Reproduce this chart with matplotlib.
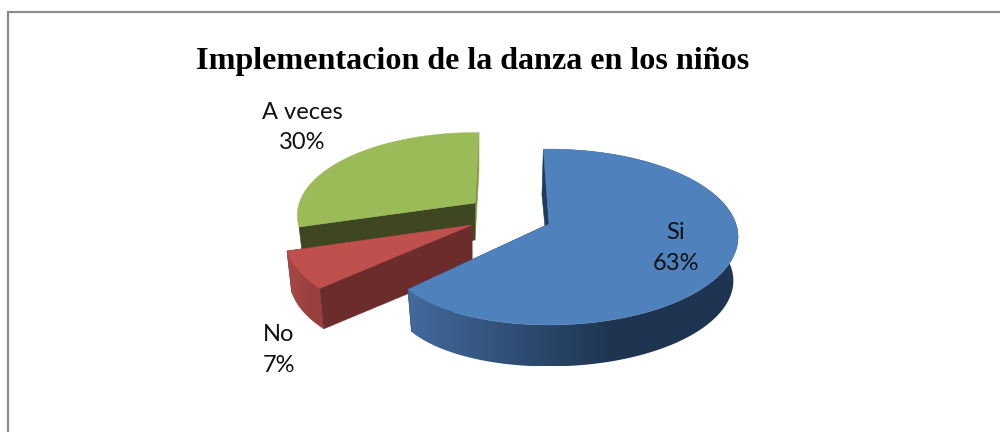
import numpy as np
import matplotlib
matplotlib.use("Agg")
import matplotlib.pyplot as plt
from matplotlib.patches import Polygon
from matplotlib.colors import to_rgb

title = "Implementacion de la danza en los niños"
categories = ["Si", "No", "A veces"]
values = [63, 7, 30]

# layout of each slice (pixels in the 1000x432 figure)
apex = [(549, 224), (472, 225), (475, 203)]
rotate = [-2.0, 1.0, 1.5]
scale = [1.0, 0.99, 0.94]
depth = [44, 42, 37]
taper = [0.045, 0.0, 0.0]
top_colors = ["#4F81BD", "#C0504D", "#9BBB59"]
cut_colors = ["#1F3A5F", "#6C2C2C", "#3F4722"]
end_colors = ["#1F3A5F", "#6C2C2C", "#7F9A48"]
wall_left = ["#426A9C", "#A84A47", None]
wall_right = ["#1E3450", "#98403E", None]
label_xy = [(676, 248), (279, 350), (302, 127.5)]

RX, RY, K = 187.0, 86.0, 0.148
SHRINK = 0.975

fig = plt.figure(figsize=(10, 4.32), dpi=100)
ax = fig.add_axes([0, 0, 1, 1])
ax.axis("off")


def project(theta, a, s, tp):
    x, y = np.sin(theta), np.cos(theta)
    d = 1 + K * y
    u = np.clip((theta - np.pi) / np.deg2rad(46), 0, 1)
    r = s * (1 - tp * u ** 3)
    return a[0] + r * RX * x / d, a[1] - r * RY * y / d


def lower(px, py, a, dp):
    return a[0] + (px - a[0]) * SHRINK, a[1] + (py - a[1]) * SHRINK + dp


def mix(c1, c2, t):
    c1, c2 = np.array(to_rgb(c1)), np.array(to_rgb(c2))
    return c1 + (c2 - c1) * t


total = sum(values)
edges = np.cumsum([0] + values) / total * 2 * np.pi
z = 1
for i in [2, 1, 0]:
    a, s, dp = apex[i], scale[i], depth[i]
    rot = np.deg2rad(rotate[i])
    t = np.linspace(edges[i] + rot, edges[i + 1] + rot, 300)
    px, py = project(t, a, s, taper[i])
    lx, ly = lower(px, py, a, dp)
    # cut face at the end of the slice
    ax.add_patch(Polygon([a, (px[-1], py[-1]), (lx[-1], ly[-1]), (a[0], a[1] + dp)],
                         closed=True, fc=end_colors[i], ec=end_colors[i], lw=0.4, zorder=z))
    z += 1
    # outer wall with a horizontal gradient
    if wall_left[i] is not None:
        xmin, xmax = px.min(), px.max()
        f = np.clip(np.linspace(0, 1, 256) / 0.62, 0, 1)
        img = np.array([[mix(wall_left[i], wall_right[i], v) for v in f]])
        top = min(py.min(), ly.min())
        bot = max(py.max(), ly.max())
        im = ax.imshow(img, extent=(xmin, xmax + 3, bot, top), aspect="auto",
                       interpolation="bilinear", zorder=z)
        z += 1
        wall = Polygon(np.vstack([np.column_stack([px, py]), np.column_stack([lx, ly])[::-1]]),
                       closed=True, transform=ax.transData, fc="none", ec="none")
        ax.add_patch(wall)
        im.set_clip_path(wall)
    # cut face at the start of the slice
    nudge = 1.5 if i == 0 else 0
    ax.add_patch(Polygon([a, (px[0], py[0]), (lx[0] - nudge, ly[0]), (a[0], a[1] + dp)],
                         closed=True, fc=cut_colors[i], ec=cut_colors[i], lw=0.4, zorder=z))
    z += 1
    ax.add_patch(Polygon(np.vstack([[a], np.column_stack([px, py])]), closed=True,
                         fc=top_colors[i], ec=top_colors[i], lw=0.3, zorder=z))
    z += 1

for i in range(3):
    ax.text(label_xy[i][0], label_xy[i][1], f"{categories[i]}\n{values[i]}%", ha="center",
            va="center", fontsize=17, family="Lato", color="#111111", linespacing=1.55, zorder=z)

# frame: left and top edges run off the picture
ax.plot([8, 8, 1000], [432, 12, 12], color="#8C8C8C", lw=1.6, solid_joinstyle="miter", zorder=z)

ax.text(473, 61, title, ha="center", va="center", fontsize=23.1, family="Liberation Serif",
        fontweight="bold", color="black", zorder=z)

ax.set_xlim(0, 1000)
ax.set_ylim(432, 0)
ax.set_aspect("auto")

fig.savefig("out.png", dpi=100)
